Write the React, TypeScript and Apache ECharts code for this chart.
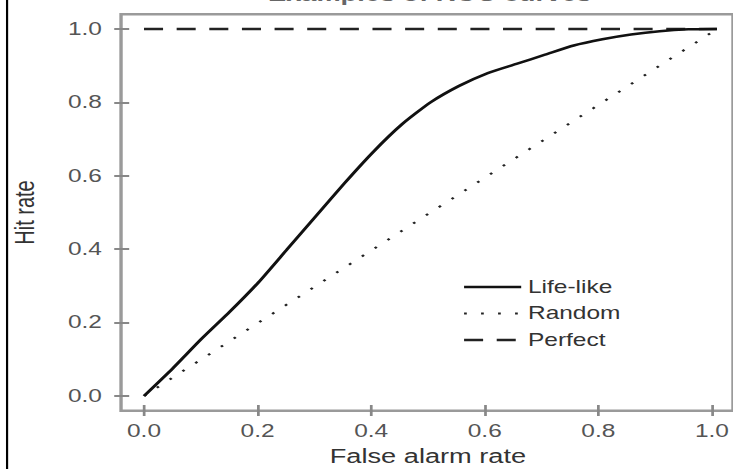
import React, { useEffect, useRef } from "react";
import * as echarts from "echarts";

const STRETCH = 733 / 539;

const titleText = "Examples of ROC curves";
const xName = "False alarm rate";
const yName = "Hit rate";
const seriesNames = ["Life-like", "Random", "Perfect"];

const lifeX = [0, 0.05, 0.1, 0.15, 0.2, 0.25, 0.3, 0.35, 0.4, 0.45, 0.5, 0.55, 0.6, 0.65, 0.7, 0.75, 0.8, 0.85, 0.9, 0.95, 1.0];
const lifeY = [0, 0.075, 0.155, 0.23, 0.31, 0.4, 0.49, 0.58, 0.665, 0.74, 0.8, 0.845, 0.88, 0.905, 0.93, 0.955, 0.972, 0.985, 0.994, 0.999, 1.0];
const randomX = [0, 1];
const randomY = [0, 1];
const perfectX = [0, 1];
const perfectY = [1, 1];

const pairs = (xs: number[], ys: number[]) => xs.map((x, i) => [x, ys[i]]);

const perfectDash = [14, 10];
const randomDash = [2, 10.5];

export default function App() {
  const ref = useRef<HTMLDivElement>(null);
  useEffect(() => {
    if (!ref.current) return;
    const chart = echarts.init(ref.current, null, { renderer: "svg" });
    const font = "Liberation Sans";
    const hiddenAxis = (gridIndex: number) => ({
      type: "value",
      gridIndex,
      min: 0,
      max: 1,
      show: false,
    });
    const labelCommon = {
      fontSize: 18,
      color: "#555",
      fontFamily: font,
      formatter: (v: number) => v.toFixed(1),
    };
    const tickCommon = { show: true, inside: false, length: 11, lineStyle: { color: "#888", width: 2 } };
    chart.setOption({
      animation: false,
      color: ["#111", "#222", "#222"],
      textStyle: { fontFamily: font },
      graphic: [
        {
          type: "line",
          shape: { x1: 5.2, y1: 0, x2: 5.2, y2: 469 },
          style: { stroke: "#000", lineWidth: 1.6 },
        },
        {
          type: "text",
          x: 316,
          y: 4,
          style: {
            text: titleText,
            fontFamily: font,
            fontSize: 20,
            fontWeight: "bold",
            fill: "#666",
            align: "center",
            verticalAlign: "bottom",
          },
        },
      ],
      legend: {
        data: [
          { name: seriesNames[0], lineStyle: { type: "solid", color: "#111", width: 2.5 } },
          { name: seriesNames[1], lineStyle: { type: randomDash, color: "#222", width: 2 } },
          { name: seriesNames[2], lineStyle: { type: perfectDash, color: "#222", width: 2.5 } },
        ],
        orient: "vertical",
        left: 340,
        top: 278,
        padding: 0,
        itemWidth: 42,
        itemHeight: 18,
        itemGap: 8.5,
        itemStyle: { opacity: 0 },
        textStyle: { fontSize: 18, color: "#333", fontFamily: font },
      },
      grid: [
        // data area: x 0..1, y 0..1
        { left: 105.9, top: 29, width: 421.3, height: 367, show: false },
        // box: -0.04..1.04 in both directions
        {
          left: 89,
          top: 14.3,
          width: 455.1,
          height: 396.4,
          show: true,
          borderColor: "#9a9a9a",
          borderWidth: 2.5,
          backgroundColor: "transparent",
        },
        // x-axis ticks on the box's bottom edge
        { left: 105.9, top: 29, width: 421.3, height: 381.3, show: false },
        // y-axis ticks on the box's left edge
        { left: 89, top: 29, width: 438.2, height: 367, show: false },
      ],
      xAxis: [
        hiddenAxis(0),
        hiddenAxis(1),
        {
          type: "value",
          gridIndex: 2,
          min: 0,
          max: 1,
          interval: 0.2,
          name: xName,
          nameLocation: "middle",
          nameGap: 41,
          nameTextStyle: { fontSize: 20, color: "#333", fontFamily: font },
          axisLine: { show: false },
          axisTick: tickCommon,
          axisLabel: { ...labelCommon, margin: 17 },
          splitLine: { show: false },
        },
        hiddenAxis(3),
      ],
      yAxis: [
        hiddenAxis(0),
        hiddenAxis(1),
        hiddenAxis(2),
        {
          type: "value",
          gridIndex: 3,
          min: 0,
          max: 1,
          interval: 0.2,
          name: yName,
          nameLocation: "middle",
          nameGap: 67,
          nameTextStyle: { fontSize: 20, color: "#333", fontFamily: font },
          axisLine: { show: false },
          axisTick: tickCommon,
          axisLabel: { ...labelCommon, margin: 20 },
          splitLine: { show: false },
        },
      ],
      series: [
        {
          name: seriesNames[2],
          type: "line",
          xAxisIndex: 0,
          yAxisIndex: 0,
          data: pairs(perfectX, perfectY),
          symbol: "none",
          clip: false,
          itemStyle: { color: "#222" },
          lineStyle: { color: "#222", width: 2.5, type: perfectDash },
        },
        {
          name: seriesNames[1],
          type: "line",
          xAxisIndex: 0,
          yAxisIndex: 0,
          data: pairs(randomX, randomY),
          symbol: "none",
          clip: false,
          itemStyle: { color: "#222" },
          lineStyle: { color: "#222", width: 2, type: randomDash },
        },
        {
          name: seriesNames[0],
          type: "line",
          xAxisIndex: 0,
          yAxisIndex: 0,
          data: pairs(lifeX, lifeY),
          symbol: "none",
          smooth: 0.2,
          clip: false,
          itemStyle: { color: "#111" },
          lineStyle: { color: "#111", width: 2.5, type: "solid" },
        },
      ],
    });
    return () => chart.dispose();
  }, []);
  return (
    <div
      ref={ref}
      style={{
        position: "absolute",
        left: 0,
        top: 0,
        width: 539,
        height: 471,
        transform: `scaleX(${STRETCH})`,
        transformOrigin: "0 0",
      }}
    />
  );
}
